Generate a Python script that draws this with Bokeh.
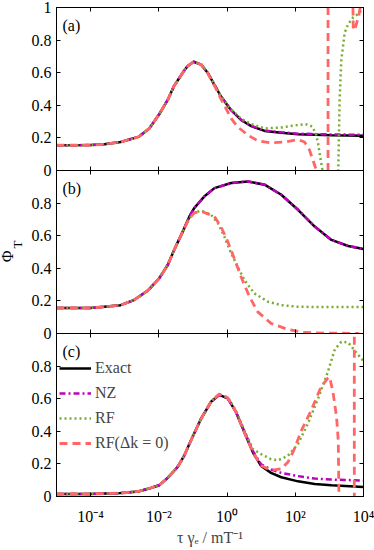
from bokeh.plotting import figure
from bokeh.models import (Range1d, FixedTicker, LogAxis, LinearAxis, Label,
                          Legend, LegendItem, ColumnDataSource)
from bokeh.layouts import column, row
from bokeh.embed import file_html
from bokeh.resources import INLINE

FONT = "Liberation Serif"

# ---------------- axes / ticks ----------------
x_ticks = [1e-4, 1e-2, 1, 1e2, 1e4]
x_tick_labels = ["10⁻⁴", "10⁻²", "10⁰", "10²", "10⁴"]
y_ticks = [0, 0.2, 0.4, 0.6, 0.8, 1]
y_tick_labels = ["0", "0.2", "0.4", "0.6", "0.8", "1"]
x_label = "τ γₑ / mT⁻¹"
y_label_main = "Φ"
y_label_sub = "T"
series_names = ["Exact", "NZ", "RF", "RF(Δk = 0)"]
panel_tags = ["(a)", "(b)", "(c)"]

# ---------------- panel (a) ----------------
a_exact_logtau = [-5, -4, -3.6, -3.12, -2.6, -2.28, -1.99, -1.74, -1.55, -1.27, -1.16, -0.98,
                  -0.76, -0.57, -0.37, -0.18, 0.12, 0.41, 0.71, 1.1, 1.59, 2.08, 3.06, 4.0]
a_exact_phi = [0.155, 0.156, 0.161, 0.175, 0.206, 0.258, 0.345, 0.433, 0.52, 0.609, 0.64, 0.667,
               0.65, 0.6, 0.526, 0.454, 0.37, 0.31, 0.272, 0.243, 0.231, 0.223, 0.217, 0.213]
a_nz_logtau = [-5, -4, -3.6, -3.12, -2.6, -2.28, -1.99, -1.74, -1.55, -1.27, -1.16, -0.98,
               -0.76, -0.57, -0.37, -0.18, 0.12, 0.41, 0.71, 1.1, 1.59, 2.08, 3.06, 4.0]
a_nz_phi = [0.155, 0.156, 0.161, 0.175, 0.206, 0.258, 0.345, 0.433, 0.52, 0.609, 0.64, 0.667,
            0.65, 0.6, 0.527, 0.455, 0.371, 0.311, 0.274, 0.246, 0.234, 0.226, 0.221, 0.219]
a_rf_logtau = [-5, -4, -3.6, -3.12, -2.6, -2.28, -1.99, -1.74, -1.55, -1.27, -1.16, -0.98,
               -0.76, -0.57, -0.37, -0.18, 0.12, 0.41, 0.71, 1.1, 1.59, 2.08, 2.3, 2.5, 2.6,
               2.67, 2.73, 2.8, 2.9, 3.2, 3.26, 3.3, 3.35, 3.45, 3.55, 3.7, 3.84, 4.0]
a_rf_phi = [0.155, 0.156, 0.161, 0.175, 0.206, 0.258, 0.345, 0.433, 0.52, 0.609, 0.64, 0.667,
            0.652, 0.603, 0.53, 0.458, 0.375, 0.318, 0.285, 0.258, 0.264, 0.279, 0.285, 0.27, 0.227,
            0.165, 0.083, 0.0, -0.3, -0.3, 0.0, 0.433, 0.68, 0.846, 0.898, 0.94, 0.96, 0.995]
a_rf0_logtau = [-5, -4, -3.6, -3.12, -2.6, -2.28, -1.99, -1.74, -1.55, -1.27, -1.16, -0.98,
                -0.76, -0.57, -0.37, -0.18, -0.08, 0.12, 0.31, 0.61, 0.9, 1.29, 1.69, 2.08,
                2.27, 2.42, 2.52, 2.62, 2.8, 2.96, 2.961, 3.3, 3.68, 3.7, 3.75, 3.85, 3.95, 4.0]
a_rf0_phi = [0.155, 0.156, 0.161, 0.175, 0.206, 0.258, 0.345, 0.433, 0.52, 0.609, 0.64, 0.667,
             0.65, 0.597, 0.52, 0.44, 0.40, 0.32, 0.268, 0.217, 0.182, 0.169, 0.175, 0.19,
             0.175, 0.124, 0.062, 0.0, -0.4, -3.0, 4.0, 1.4, 1.2, 0.86, 0.87, 0.94, 1.05, 1.1]

# ---------------- panel (b) ----------------
b_exact_logtau = [-5, -4, -3.6, -3.12, -2.73, -2.33, -1.99, -1.74, -1.55, -1.3, -1.11, -0.96,
                  -0.67, -0.37, 0.12, 0.61, 1.1, 1.59, 2.08, 2.57, 3.06, 3.55, 4.0]
b_exact_phi = [0.157, 0.157, 0.164, 0.174, 0.205, 0.262, 0.338, 0.42, 0.513, 0.625, 0.715, 0.77,
               0.84, 0.892, 0.923, 0.933, 0.913, 0.851, 0.759, 0.656, 0.574, 0.537, 0.519]
b_nz_logtau = [-5, -4, -3.6, -3.12, -2.73, -2.33, -1.99, -1.74, -1.55, -1.3, -1.11, -0.96,
               -0.67, -0.37, 0.12, 0.61, 1.1, 1.59, 2.08, 2.57, 3.06, 3.55, 4.0]
b_nz_phi = [0.157, 0.157, 0.164, 0.174, 0.205, 0.262, 0.338, 0.42, 0.513, 0.625, 0.715, 0.77,
            0.84, 0.892, 0.923, 0.933, 0.913, 0.851, 0.759, 0.656, 0.574, 0.537, 0.519]
b_rf_logtau = [-5, -4, -3.6, -3.12, -2.73, -2.33, -1.99, -1.74, -1.55, -1.3, -1.11, -0.96,
               -0.76, -0.47, -0.27, -0.08, 0.12, 0.31, 0.51, 0.8, 1.2, 1.59, 2.08, 3.0, 4.0]
b_rf_phi = [0.157, 0.157, 0.164, 0.174, 0.205, 0.262, 0.338, 0.42, 0.513, 0.625, 0.705, 0.74,
            0.755, 0.728, 0.677, 0.595, 0.492, 0.41, 0.328, 0.246, 0.195, 0.174, 0.164, 0.162, 0.162]
b_rf0_logtau = [-5, -4, -3.6, -3.12, -2.73, -2.33, -1.99, -1.74, -1.55, -1.3, -1.11, -0.96,
                -0.76, -0.37, -0.18, 0.02, 0.21, 0.41, 0.66, 0.9, 1.29, 1.78, 2.27, 3.0, 3.84, 4.0]
b_rf0_phi = [0.157, 0.157, 0.164, 0.174, 0.205, 0.262, 0.338, 0.42, 0.513, 0.625, 0.705, 0.74,
             0.75, 0.718, 0.656, 0.564, 0.462, 0.348, 0.225, 0.133, 0.062, 0.025, 0.006, 0.002,
             0.001, -0.02]

# ---------------- panel (c) ----------------
c_exact_logtau = [-5, -4, -3.12, -2.6, -2.24, -1.99, -1.74, -1.45, -1.26, -1.06, -0.76, -0.47,
                  -0.23, 0.02, 0.26, 0.51, 0.76, 1.0, 1.29, 1.59, 2.08, 2.57, 3.06, 4.0]
c_exact_phi = [0.015, 0.016, 0.021, 0.031, 0.052, 0.069, 0.114, 0.181, 0.249, 0.343, 0.478, 0.581,
               0.623, 0.602, 0.519, 0.394, 0.27, 0.187, 0.145, 0.118, 0.093, 0.077, 0.069, 0.058]
c_nz_logtau = [-5, -4, -3.12, -2.6, -2.24, -1.99, -1.74, -1.45, -1.26, -1.06, -0.76, -0.47,
               -0.23, 0.02, 0.26, 0.51, 0.76, 1.0, 1.29, 1.59, 2.08, 2.57, 3.06, 4.0]
c_nz_phi = [0.015, 0.016, 0.021, 0.031, 0.052, 0.069, 0.114, 0.181, 0.249, 0.343, 0.478, 0.581,
            0.623, 0.602, 0.519, 0.396, 0.278, 0.197, 0.166, 0.145, 0.125, 0.11, 0.104, 0.098]
c_rf_logtau = [-5, -4, -3.12, -2.6, -2.24, -1.99, -1.74, -1.45, -1.26, -1.06, -0.76, -0.47,
               -0.23, 0.02, 0.26, 0.51, 0.76, 1.0, 1.29, 1.49, 1.78, 2.08, 2.37, 2.67, 2.96,
               3.16, 3.35, 3.55, 3.8, 4.0]
c_rf_phi = [0.015, 0.016, 0.021, 0.031, 0.052, 0.069, 0.114, 0.181, 0.249, 0.343, 0.478, 0.583,
            0.628, 0.608, 0.527, 0.405, 0.29, 0.26, 0.229, 0.222, 0.249, 0.322, 0.447, 0.602,
            0.768, 0.903, 0.949, 0.945, 0.88, 0.831]
c_rf0_logtau = [-5, -4, -3.12, -2.6, -2.24, -1.99, -1.74, -1.45, -1.26, -1.06, -0.76, -0.47,
                -0.23, 0.02, 0.26, 0.51, 0.76, 1.0, 1.29, 1.59, 1.78, 1.95, 2.18, 2.47, 2.76,
                2.95, 3.01, 3.11, 3.21, 3.26, 3.28, 3.3, 3.72, 3.73, 3.731, 4.0]
c_rf0_phi = [0.015, 0.016, 0.021, 0.031, 0.052, 0.069, 0.114, 0.181, 0.249, 0.343, 0.478, 0.583,
             0.628, 0.606, 0.52, 0.39, 0.27, 0.19, 0.16, 0.17, 0.21, 0.28, 0.405, 0.53, 0.675,
             0.725, 0.733, 0.634, 0.488, 0.343, 0.0, -0.5, -0.5, -3.0, 4.0, 1.5]

panels = [
    [(a_exact_logtau, a_exact_phi), (a_nz_logtau, a_nz_phi), (a_rf_logtau, a_rf_phi), (a_rf0_logtau, a_rf0_phi)],
    [(b_exact_logtau, b_exact_phi), (b_nz_logtau, b_nz_phi), (b_rf_logtau, b_rf_phi), (b_rf0_logtau, b_rf0_phi)],
    [(c_exact_logtau, c_exact_phi), (c_nz_logtau, c_nz_phi), (c_rf_logtau, c_rf_phi), (c_rf0_logtau, c_rf0_phi)],
]

colors = ["black", "#bf00bf", "#77ac30", "#ff6666"]
dashes = ["solid", "6 3 2 3", "2 3", "8 5"]
widths = [2.5, 2.5, 2.5, 2.8]

FW, FH = 307, 163
LABEL_W = 24
TOTAL_H = 549
x_range = Range1d(1e-5, 1e4)


def style_axis(ax, show_labels, labels_map, standoff=5):
    ax.ticker = FixedTicker(ticks=list(labels_map.keys()))
    ax.major_tick_in = 4
    ax.major_tick_out = 0
    ax.minor_tick_in = 0
    ax.minor_tick_out = 0
    ax.axis_line_color = "black"
    ax.axis_line_width = 1
    ax.major_tick_line_color = "black"
    ax.major_tick_line_width = 1
    ax.major_label_text_font = FONT
    ax.major_label_text_color = "black"
    if show_labels:
        ax.major_label_overrides = labels_map
        ax.major_label_text_font_size = "16px"
        ax.major_label_standoff = standoff
    else:
        ax.major_label_overrides = {k: "" for k in labels_map}
        ax.major_label_text_font_size = "1px"
        ax.major_label_standoff = 0


figs = []
for i, series in enumerate(panels):
    last = i == 2
    p = figure(x_axis_type="log", x_range=x_range, y_range=Range1d(0, 1),
               frame_width=FW, frame_height=FH, output_backend="svg",
               toolbar_location=None,
               min_border_left=32, min_border_right=11,
               min_border_top=7 if i == 0 else 8,
               min_border_bottom=53 if last else 8)
    p.background_fill_color = None
    p.border_fill_color = None
    p.outline_line_color = "black"
    p.outline_line_width = 1
    p.xgrid.visible = False
    p.ygrid.visible = False

    bottom = p.below[0]
    left = p.left[0]
    xmap = dict(zip(x_ticks, x_tick_labels))
    ymap = dict(zip(y_ticks, y_tick_labels))
    if i > 0:
        ymap[1] = ""
    style_axis(bottom, last, xmap, standoff=11)
    style_axis(left, True, ymap)
    top = LogAxis()
    style_axis(top, False, xmap)
    p.add_layout(top, "above")
    right = LinearAxis()
    style_axis(right, False, dict(zip(y_ticks, y_tick_labels)))
    p.add_layout(right, "right")

    renderers = []
    for (lx, phi), name, col, dsh, lw in zip(series, series_names, colors, dashes, widths):
        src = ColumnDataSource(dict(tau=[10 ** v for v in lx], phi=phi))
        r = p.line("tau", "phi", source=src, line_color=col, line_width=lw,
                   line_dash=dsh)
        renderers.append(r)

    p.add_layout(Label(x=6, y=FH - 9, x_units="screen", y_units="screen",
                       text=panel_tags[i], text_font=FONT, text_font_size="16px",
                       text_baseline="top", text_color="black"))

    if last:
        bottom.axis_label = x_label
        bottom.axis_label_text_font = FONT
        bottom.axis_label_text_font_size = "16px"
        bottom.axis_label_text_font_style = "normal"
        bottom.axis_label_standoff = 1
        legend = Legend(items=[LegendItem(label=n, renderers=[r]) for n, r in zip(series_names, renderers)],
                        location=(3, 43), padding=0, margin=0, spacing=5,
                        glyph_width=32, glyph_height=20, label_height=20,
                        label_standoff=4, label_text_font=FONT,
                        label_text_font_size="16px", border_line_alpha=0,
                        background_fill_alpha=0)
        p.add_layout(legend)
    if i > 0:
        p.styles = {"margin-top": "-16px"}
    figs.append(p)

# narrow strip holding the vertical y-axis title
ylab = figure(width=LABEL_W, height=TOTAL_H, x_range=Range1d(0, 1), y_range=Range1d(0, 1),
              x_axis_location=None, y_axis_location=None, output_backend="svg",
              toolbar_location=None, min_border_left=0, min_border_right=0,
              min_border_top=0, min_border_bottom=0)
ylab.outline_line_color = None
ylab.background_fill_color = None
ylab.border_fill_color = None
ylab.xgrid.visible = False
ylab.ygrid.visible = False
ylab.add_layout(Label(x=7, y=TOTAL_H - 256, x_units="screen", y_units="screen",
                      text=y_label_main, text_font=FONT, text_font_size="16px",
                      angle=1.5708, text_align="center", text_baseline="middle",
                      text_color="black"))
ylab.add_layout(Label(x=17, y=TOTAL_H - 244, x_units="screen", y_units="screen",
                      text=y_label_sub, text_font=FONT, text_font_size="13px",
                      angle=1.5708, text_align="center", text_baseline="middle",
                      text_color="black"))

layout = row(ylab, column(*figs, spacing=0), spacing=0)
open("out.html", "w").write(file_html(layout, INLINE))
